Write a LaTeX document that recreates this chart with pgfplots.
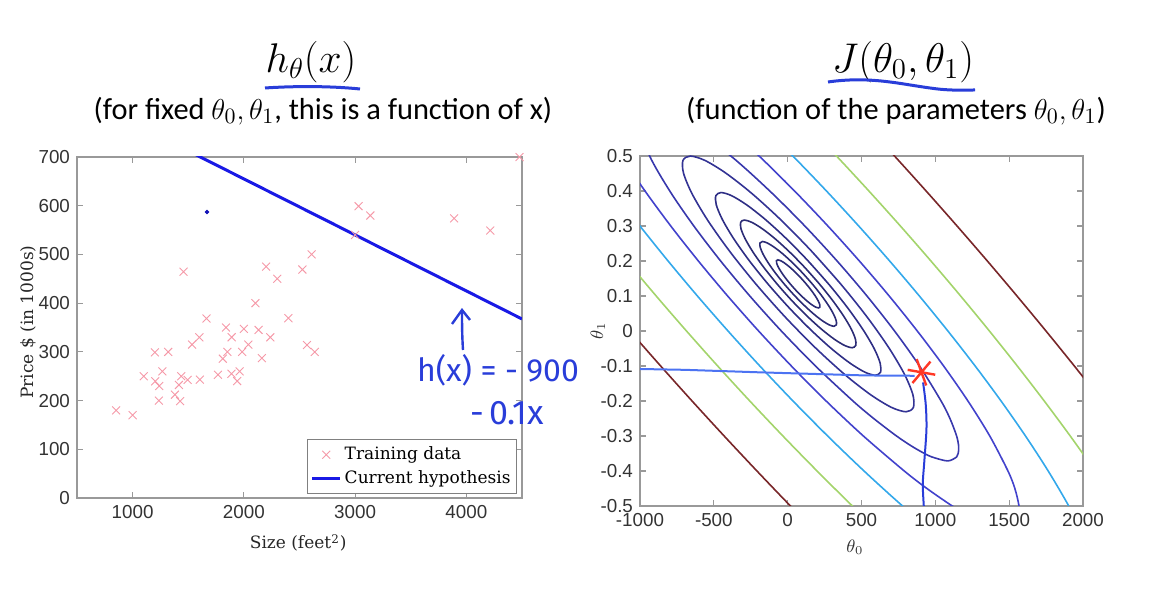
\documentclass[border=0pt]{standalone}
\usepackage{fontspec}
\usepackage{pgfplots}
\pgfplotsset{compat=1.18}
\newfontfamily\carlito{Carlito}
\newfontfamily\tickf{Liberation Sans}
\newfontfamily\labf{DejaVu Serif}
\newfontfamily\hand{Fira Sans}
\definecolor{pinkx}{rgb}{0.96,0.60,0.66}
\definecolor{hypblue}{rgb}{0.10,0.10,0.90}
\definecolor{penblue}{rgb}{0.16,0.24,0.85}
\definecolor{penlight}{rgb}{0.30,0.45,0.95}
\definecolor{starred}{rgb}{1.0,0.22,0.15}
\definecolor{cA}{rgb}{0.17,0.17,0.46}
\definecolor{cB}{rgb}{0.18,0.18,0.52}
\definecolor{cC}{rgb}{0.20,0.20,0.58}
\definecolor{cD}{rgb}{0.22,0.22,0.68}
\definecolor{cE}{rgb}{0.26,0.26,0.80}
\definecolor{cF}{rgb}{0.20,0.66,0.92}
\definecolor{cG}{rgb}{0.64,0.83,0.42}
\definecolor{cH}{rgb}{0.47,0.15,0.16}
\begin{document}
\begin{tikzpicture}
\path (0,0) rectangle (576pt,306.5pt);
% ---------------- left axis ----------------
\begin{axis}[
  at={(38.5pt,57.5pt)}, anchor=south west, scale only axis,
  width=222.5pt, height=170.5pt,
  xmin=500, xmax=4500, ymin=0, ymax=700,
  xtick={1000,2000,3000,4000}, xticklabels={1000,2000,3000,4000},
  ytick={0,100,200,300,400,500,600,700}, yticklabels={0,100,200,300,400,500,600,700},
  tick align=inside, major tick length=3pt,
  axis line style={draw=black!40, line width=0.7pt},
  every tick/.style={draw=black!40, line width=0.6pt},
  ticklabel style={font=\tickf\fontsize{9.4}{11}\selectfont, text=black!80},
  xlabel={Size (feet\textsuperscript{2})}, ylabel={Price \$ (in 1000s)},
  label style={font=\labf\fontsize{8.5}{10}\selectfont, text=black!85},
  xlabel style={at={(axis description cs:0.497,-0.132)}, anchor=center},
  ylabel style={at={(axis description cs:-0.110,0.516)}, anchor=center},
  legend style={at={(1,0)}, anchor=south east, xshift=-2.5pt, yshift=2pt,
    font=\labf\fontsize{8.5}{10}\selectfont, draw=black!50, inner sep=1.5pt, row sep=0pt,
    nodes={inner xsep=1.5pt}},
  legend image code/.code={\draw[mark repeat=2,mark phase=2,#1] plot coordinates {(0pt,0pt) (7pt,0pt) (14pt,0pt)};},
  legend cell align=left,
]
\addplot[only marks, mark=x, mark size=2.8pt, color=pinkx, mark options={line width=0.45pt}] coordinates {
(2104,399.9) (1600,329.9) (2400,369.0) (1416,232.0) (3000,539.9) (1985,299.9) (1534,314.9)
(1427,199.0) (1380,212.0) (1494,242.5) (1940,240.0) (2000,347.0) (1890,330.0) (4478,699.9)
(1268,259.9) (2300,449.9) (1320,299.9) (1236,199.9) (2609,500.0) (3031,599.0) (1767,252.9)
(1888,255.0) (1604,242.9) (1962,259.9) (3890,573.9) (1100,249.9) (1458,464.5) (2526,469.0)
(2200,475.0) (2637,299.9) (1839,349.9) (1000,169.9) (2040,314.9) (3137,579.9) (1811,285.9)
(1437,249.9) (1239,229.9) (2132,345.0) (4215,549.0) (2162,287.0) (1664,368.5) (2238,329.9)
(2567,314.0) (1200,299.0) (852,179.9) (1852,299.9) (1203,239.5)};
\addlegendentry{Training data}
\addplot[hypblue, line width=1.5pt] coordinates {(500,827.5) (4500,367.5)};
\addlegendentry{Current hypothesis}
\addplot[forget plot, only marks, mark=*, mark size=0.9pt, color=hypblue!80!black] coordinates {(1668,587)};
\end{axis}
% ---------------- right axis ----------------
\begin{axis}[
  at={(320pt,53.5pt)}, anchor=south west, scale only axis,
  width=221.5pt, height=175pt,
  xmin=-1000, xmax=2000, ymin=-0.5, ymax=0.5,
  xtick={-1000,-500,0,500,1000,1500,2000}, xticklabels={-1000,-500,0,500,1000,1500,2000},
  ytick={-0.5,-0.4,-0.3,-0.2,-0.1,0,0.1,0.2,0.3,0.4,0.5},
  yticklabels={-0.5,-0.4,-0.3,-0.2,-0.1,0,0.1,0.2,0.3,0.4,0.5},
  tick align=inside, major tick length=3pt,
  axis line style={draw=black!40, line width=0.7pt},
  every tick/.style={draw=black!40, line width=0.6pt},
  ticklabel style={font=\tickf\fontsize{9.4}{11}\selectfont, text=black!80},
  xlabel={$\theta_0$}, ylabel={$\theta_1$},
  label style={font=\fontsize{9}{10}\selectfont, text=black!80},
  xlabel style={at={(axis description cs:0.485,-0.117)}, anchor=center},
  ylabel style={at={(axis description cs:-0.095,0.5)}, anchor=center},
  every axis plot/.append style={line width=0.8pt},
]
% J = 1000000
\addplot[cH, smooth] coordinates {(504.5,0.6) (723.3,0.5) (937.4,0.4) (1147.0,0.3) (1352.1,0.2) (1552.8,0.1) (1749.2,0) (1941.2,-0.1) (2128.6,-0.2)};
\addplot[cH, smooth] coordinates {(-1272.2,0.1) (-1068.4,0) (-860.2,-0.1) (-647.6,-0.2) (-430.2,-0.3) (-208.1,-0.4) (18.9,-0.5) (251.5,-0.6)};
% J = 533670
\addplot[cG, smooth] coordinates {(104.0,0.6) (330.4,0.5) (549.9,0.4) (763.1,0.3) (970.1,0.2) (1171.1,0.1) (1366.1,0) (1555.0,-0.1) (1737.5,-0.2) (1913.5,-0.3) (2082.3,-0.4)};
\addplot[cG, smooth] coordinates {(-1282.7,0.3) (-1089.5,0.2) (-890.5,0.1) (-685.3,0) (-474.0,-0.1) (-256.5,-0.2) (-32.3,-0.3) (199.1,-0.4) (438.3,-0.5) (686.5,-0.6)};
% J = 284804
\addplot[cF, smooth] coordinates {(-203.1,0.6) (35.0,0.5) (262.6,0.4) (480.9,0.3) (690.5,0.2) (891.8,0.1) (1084.9,0) (1269.6,-0.1) (1445.0,-0.2) (1610.5,-0.3) (1764.3,-0.4) (1903.4,-0.5) (2022.5,-0.6)};
\addplot[cF, smooth] coordinates {(-1354.8,0.5) (-1182.4,0.4) (-1000.5,0.3) (-809.9,0.2) (-611.2,0.1) (-404.1,0) (-188.6,-0.1) (36.0,-0.2) (270.7,-0.3) (517.1,-0.4) (778.0,-0.5) (1059.1,-0.6)};
% J = 151991
\addplot[cE, smooth] coordinates {(-1267.4,0.6) (-1126.1,0.5) (-966.2,0.4) (-791.7,0.3) (-604.9,0.2) (-406.6,0.1) (-196.9,0) (24.9,-0.1) (260.2,-0.2) (512.6,-0.3) (789.6,-0.4) (942.9,-0.45) (1114.8,-0.5) (1236.6,-0.53) (1339.4,-0.55) (1419.0,-0.56) (1464.7,-0.562) (1502.6,-0.56) (1542.2,-0.55) (1565.0,-0.53) (1566.6,-0.5) (1538.5,-0.45) (1491.8,-0.4) (1368.6,-0.3) (1220.8,-0.2) (1056.1,-0.1) (877.7,0) (687.4,0.1) (485.5,0.2) (272.1,0.3) (46.4,0.4) (-193.7,0.5) (-452.6,0.6)};
% J = 81113
\addplot[cD, smooth] coordinates {(-1015.5,0.6) (-934.8,0.5) (-798.4,0.4) (-635.6,0.3) (-454.0,0.2) (-256.4,0.1) (-42.9,0) (188.2,-0.1) (442.2,-0.2) (582.3,-0.25) (737.0,-0.3) (843.2,-0.33) (926.5,-0.35) (977.1,-0.36) (1083.2,-0.3713) (1144.1,-0.36) (1154.7,-0.35) (1158.0,-0.33) (1144.2,-0.3) (1098.9,-0.25) (1038.8,-0.2) (892.8,-0.1) (723.7,0) (537.0,0.1) (334.6,0.2) (116.0,0.3) (-121.4,0.4) (-385.0,0.5) (-704.5,0.6)};
% J = 43288
\addplot[cC, smooth] coordinates {(358.5,0.1345) (159.5,0.2290) (-45.4,0.3171) (-242.4,0.3928) (-418.0,0.4508) (-560.3,0.4873) (-659.5,0.4998) (-708.9,0.4873) (-705.2,0.4508) (-648.5,0.3928) (-542.8,0.3171) (-395.2,0.2290) (-215.9,0.1345) (-17.0,0.0400) (188.0,-0.0481) (385.0,-0.1238) (560.6,-0.1818) (702.9,-0.2183) (802.1,-0.2308) (851.5,-0.2183) (847.8,-0.1818) (791.1,-0.1238) (685.4,-0.0481) (537.8,0.0400) (358.5,0.1345) (159.5,0.2290)};
% J = 23101
\addplot[cB, smooth] coordinates {(276.5,0.1345) (134.3,0.2020) (-12.1,0.2650) (-152.8,0.3191) (-278.3,0.3605) (-379.9,0.3866) (-450.9,0.3955) (-486.1,0.3866) (-483.5,0.3605) (-443.0,0.3191) (-367.5,0.2650) (-262.0,0.2020) (-133.9,0.1345) (8.2,0.0670) (154.7,0.0040) (295.4,-0.0501) (420.9,-0.0915) (522.5,-0.1176) (593.5,-0.1265) (628.7,-0.1176) (626.1,-0.0915) (585.6,-0.0501) (510.1,0.0040) (404.6,0.0670) (276.5,0.1345) (134.3,0.2020)};
% J = 12328
\addplot[cA, smooth] coordinates {(214.7,0.1345) (115.3,0.1817) (13.0,0.2257) (-85.3,0.2635) (-173.0,0.2924) (-244.0,0.3106) (-293.5,0.3169) (-318.2,0.3106) (-316.3,0.2924) (-288.1,0.2635) (-235.3,0.2257) (-161.6,0.1817) (-72.1,0.1345) (27.2,0.0873) (129.5,0.0433) (227.9,0.0055) (315.6,-0.0234) (386.6,-0.0416) (436.1,-0.0479) (460.8,-0.0416) (458.9,-0.0234) (430.7,0.0055) (377.9,0.0433) (304.2,0.0873) (214.7,0.1345) (115.3,0.1817)};
% J = 6579
\addplot[cA, smooth] coordinates {(166.5,0.1345) (100.5,0.1658) (32.6,0.1950) (-32.7,0.2201) (-90.9,0.2393) (-138.0,0.2514) (-170.9,0.2556) (-187.3,0.2514) (-186.1,0.2393) (-167.3,0.2201) (-132.3,0.1950) (-83.4,0.1658) (-23.9,0.1345) (42.0,0.1032) (110.0,0.0740) (175.2,0.0489) (233.4,0.0297) (280.6,0.0176) (313.5,0.0134) (329.8,0.0176) (328.6,0.0297) (309.8,0.0489) (274.8,0.0740) (225.9,0.1032) (166.5,0.1345) (100.5,0.1658)};
% J = 3511
\addplot[cA, smooth] coordinates {(125.3,0.1345) (87.9,0.1523) (49.3,0.1689) (12.2,0.1831) (-20.8,0.1940) (-47.6,0.2009) (-66.3,0.2033) (-75.6,0.2009) (-74.9,0.1940) (-64.2,0.1831) (-44.3,0.1689) (-16.5,0.1523) (17.2,0.1345) (54.7,0.1167) (93.2,0.1001) (130.3,0.0859) (163.4,0.0750) (190.1,0.0681) (208.8,0.0658) (218.1,0.0681) (217.4,0.0750) (206.8,0.0859) (186.9,0.1001) (159.1,0.1167) (125.3,0.1345) (87.9,0.1523)};
% pen annotations
\addplot[penlight, line width=1pt] coordinates {(-1000,-0.1086) (-695,-0.111) (-200,-0.118) (522,-0.127) (860,-0.128)};
\addplot[penblue, line width=1pt, smooth] coordinates {(917,-0.147) (935,-0.21) (940,-0.28) (925,-0.375) (915,-0.44) (925,-0.52)};
\addplot[only marks, mark=asterisk, mark size=7pt, color=starred, mark options={line width=1.2pt, rotate=80}] coordinates {(906,-0.118)};
\end{axis}
% ---------------- titles and handwriting (pixel coordinates) ----------------
\begin{scope}[yshift=306.5pt, x=0.5pt, y=-0.5pt]
\node at (311,62) {\fontsize{20}{24}\selectfont $h_\theta(x)$};
\node at (323,111) {\carlito\fontsize{15.2}{18}\selectfont (for fixed $\theta_0,\theta_1$, this is a function of x)};
\node at (903,62) {\fontsize{20}{24}\selectfont $J(\theta_0,\theta_1)$};
\node at (896,111) {\carlito\fontsize{15.2}{18}\selectfont (function of the parameters $\theta_0,\theta_1$)};
\draw[penblue, line width=1.5pt] (265,88) .. controls (295,86) and (330,86) .. (360,89);
\draw[penblue, line width=1.5pt] (828,82) .. controls (870,76) and (900,84) .. (930,88) .. controls (950,91) and (965,90) .. (975,90);
\draw[penblue, line width=1.2pt] (463,350) .. controls (462,335) and (462,322) .. (462,310);
\draw[penblue, line width=1.2pt] (452,324) -- (462,310) -- (470,320);
\node[text=penblue] at (498,370) {\hand\fontsize{16}{18}\selectfont h(x) = - 900};
\node[text=penblue] at (507,413) {\hand\fontsize{17}{19}\selectfont -\,0.1x};
\end{scope}
\end{tikzpicture}
\end{document}
